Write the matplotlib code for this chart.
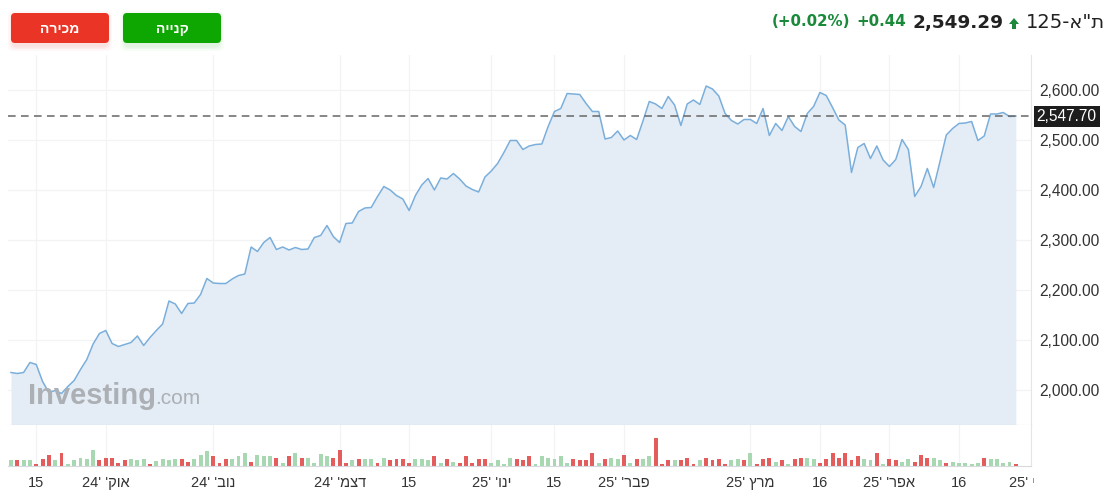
import matplotlib
matplotlib.use("Agg")
import matplotlib.pyplot as plt
from matplotlib.patches import FancyBboxPatch, Polygon
from matplotlib.transforms import IdentityTransform, Bbox, blended_transform_factory

plt.rcParams["font.family"] = ["Liberation Sans", "DejaVu Sans"]

# daily closes, TA-125 (approx)
closes = [
    2035, 2033, 2035, 2055, 2051, 2017, 1995, 1999, 1993, 2007,
    2019, 2041, 2061, 2092, 2113, 2119, 2093, 2087, 2091, 2095,
    2108, 2089, 2105, 2119, 2132, 2178, 2172, 2153, 2173, 2174,
    2191, 2223, 2214, 2213, 2213, 2222, 2229, 2232, 2286, 2277,
    2295, 2305, 2281, 2286, 2280, 2285, 2281, 2282, 2305, 2309,
    2329, 2307, 2295, 2333, 2334, 2357, 2364, 2365, 2387, 2407,
    2400, 2389, 2382, 2359, 2389, 2410, 2423, 2400, 2424, 2422,
    2433, 2422, 2408, 2401, 2396, 2426, 2438, 2453, 2475, 2499,
    2499, 2481, 2488, 2491, 2492, 2527, 2557, 2563, 2593, 2592,
    2591, 2573, 2557, 2557, 2502, 2505, 2518, 2500, 2509, 2501,
    2538, 2577, 2572, 2563, 2587, 2570, 2529, 2572, 2580, 2571,
    2608, 2602, 2588, 2553, 2539, 2532, 2541, 2541, 2533, 2563,
    2509, 2533, 2519, 2547, 2527, 2517, 2553, 2567, 2595, 2589,
    2565, 2540, 2530, 2435, 2485, 2493, 2463, 2488, 2460, 2447,
    2461, 2501, 2481, 2387, 2407, 2443, 2405, 2457, 2510, 2523,
    2533, 2534, 2537, 2499, 2508, 2552, 2552, 2555, 2547, 2547.70,
]

# daily volume (relative units) and bar direction: g = up day, d = down day
volumes = [
    16, 16, 16, 16, 6, 20, 32, 16, 36, 6,
    16, 24, 20, 46, 16, 24, 24, 8, 16, 20,
    16, 20, 6, 14, 20, 16, 20, 20, 12, 20,
    32, 42, 28, 8, 20, 20, 28, 38, 12, 32,
    28, 28, 24, 8, 28, 36, 24, 24, 8, 34,
    30, 24, 46, 8, 16, 20, 20, 20, 8, 24,
    16, 20, 20, 8, 20, 20, 16, 28, 8, 20,
    12, 8, 28, 8, 20, 20, 8, 16, 6, 24,
    20, 16, 28, 6, 28, 24, 20, 28, 8, 20,
    16, 16, 36, 8, 20, 24, 20, 32, 8, 20,
    20, 28, 80, 6, 16, 16, 16, 24, 6, 16,
    24, 16, 20, 6, 16, 20, 16, 36, 6, 20,
    24, 12, 16, 6, 20, 24, 24, 20, 8, 20,
    36, 24, 36, 16, 28, 20, 16, 38, 6, 20,
    16, 12, 20, 12, 32, 24, 24, 16, 8, 12,
    8, 8, 6, 8, 24, 20, 20, 8, 12, 6,
]
directions = (
    "gdggdddgdg" "ggggdddddg"
    "ggdggggddg" "ggdddgggdg"
    "ggdgdgdggg" "gdddgdggdg"
    "ddddgggdgd" "gdddddgggg"
    "dddggggggd" "dddgdggdgd"
    "ggdddgdddg" "ddddggdgdd"
    "dgdgddggdd" "dddddggdgd"
    "dggdddggdg" "ggggdggggd"
)

# trading-day index of each date tick, labels in visual (left-to-right) order
tick_idx = [4, 15, 32, 52, 63, 76, 86, 97, 117, 128, 139, 150]
tick_labels = ["15", "24' 'קוא", "24' 'בונ", "24' 'מצד", "15", "25' 'וני",
               "15", "25' 'רבפ", "25' ץרמ", "16", "25' 'רפא", "16"]
last_tick_idx = 161.6
last_tick_label = "25' יאמ"

price_ticks = [2000, 2100, 2200, 2300, 2400, 2500, 2600]
last_price = 2547.70

W, H = 1116, 494
fig = plt.figure(figsize=(W / 100, H / 100), dpi=100)
fig.patch.set_facecolor("white")


def fbox(x0, y0, x1, y1):
    return [x0 / W, 1 - y1 / H, (x1 - x0) / W, (y1 - y0) / H]


ax = fig.add_axes(fbox(8, 55, 1031, 425))
axv = fig.add_axes(fbox(8, 425, 1031, 466))
xs = list(range(len(closes)))
xlim = (-0.47, 161.4)

grid_c = "#f2f3f4"
for a in (ax, axv):
    a.set_xlim(*xlim)
    for t in tick_idx:
        a.axvline(t, color=grid_c, lw=0.9, zorder=0)
    for s in a.spines.values():
        s.set_visible(False)
    a.tick_params(length=0)

# price panel
ax.set_ylim(1930, 2670)
for p in price_ticks:
    ax.axhline(p, color=grid_c, lw=0.9, zorder=0)
ax.fill_between(xs, closes, 1930, color="#e4edf6", lw=0, zorder=1)
ax.plot(xs, closes, color="#7aaedb", lw=1.1, zorder=2)
ax.axhline(last_price, color="#666666", lw=1.1, ls=(0, (5, 3.5)), zorder=3)
ax.set_xticks([])
ax.yaxis.tick_right()
ax.set_yticks(price_ticks)
ax.set_yticklabels([f"{p:,.2f}" for p in price_ticks], fontsize=11.2, color="#333333")
ax.tick_params(axis="y", pad=6)
ax.spines["bottom"].set_visible(True)
ax.spines["bottom"].set_color("#c9cdd1")
ax.spines["right"].set_visible(True)
ax.spines["right"].set_color("#e3e5e8")

# last price tag
ax.text(1.0055, last_price, f"{last_price:,.2f}", transform=ax.get_yaxis_transform(),
        ha="left", va="center", fontsize=11.2, color="white",
        bbox=dict(boxstyle="square,pad=0.2", fc="#1d1d1d", ec="none"), zorder=5, clip_on=False)

# volume panel
vcolors = ["#a7d8b1" if d == "g" else "#e35d5d" for d in directions]
axv.bar(xs, volumes, width=0.62, color=vcolors, zorder=2)
axv.set_ylim(0, 118)
axv.set_yticks([])
axv.spines["bottom"].set_visible(True)
axv.spines["bottom"].set_color("#d6d9dd")
axv.spines["right"].set_visible(True)
axv.spines["right"].set_color("#e3e5e8")
axv.set_xticks(tick_idx)
axv.set_xticklabels(tick_labels, fontsize=10.5, color="#333333")
axv.tick_params(axis="x", pad=7.5)

# clipped label at the right edge
trans = blended_transform_factory(axv.transData, IdentityTransform())
t = axv.text(last_tick_idx, H - 483, last_tick_label, transform=trans, ha="center", va="center",
             fontsize=10.5, color="#333333", clip_on=True)
t.set_clip_box(Bbox([[0, 0], [1034, H]]))

# watermark
fig.text(28 / W, 1 - 404 / H, "Investing", fontsize=21, fontweight="bold", color="#acb0b4",
         ha="left", va="baseline")
fig.text(155 / W, 1 - 404 / H, ".com", fontsize=15, color="#acb0b4", ha="left", va="baseline")

# header: buy / sell buttons
for (x0, x1, fc, sc, label) in [(11, 109, "#ea3526", "#f6b8b2", "הריכמ"),
                                (123, 221, "#0ea600", "#b9e3b4", "היינק")]:
    for k, al in [(5, 0.10), (3, 0.15), (1.5, 0.2)]:
        fig.add_artist(FancyBboxPatch((x0 - k + 2, H - 43 - k - 3), (x1 - x0) + 2 * k - 4, 30 + 2 * k,
                                      boxstyle="round,pad=0,rounding_size=6", fc=sc, ec="none",
                                      alpha=al, transform=IdentityTransform()))
    fig.add_artist(FancyBboxPatch((x0, H - 43), x1 - x0, 30, boxstyle="round,pad=0,rounding_size=4",
                                  fc=fc, ec="none", transform=IdentityTransform()))
    fig.text((x0 + x1) / 2 / W, 1 - 29 / H, label, fontsize=10, fontweight="bold", color="white",
             ha="center", va="center")

# header: quote
green = "#1a8a3a"
hdr = ["DejaVu Sans"]
fig.text(1105 / W, 1 - 23 / H, '125-א"ת', fontsize=14, color="#222222", ha="right", va="center",
         family=hdr)
fig.add_artist(Polygon([(1009, H - 24), (1014, H - 18), (1019, H - 24), (1016, H - 24),
                        (1016, H - 29), (1012, H - 29), (1012, H - 24)],
                       closed=True, fc=green, ec="none", transform=IdentityTransform()))
fig.text(1003 / W, 1 - 23 / H, "2,549.29", fontsize=13.2, fontweight="bold", color="#222222",
         ha="right", va="center", family=hdr)
fig.text(906 / W, 1 - 22 / H, "+0.44", fontsize=10.8, fontweight="bold", color=green,
         ha="right", va="center", family=hdr)
fig.text(850 / W, 1 - 22 / H, "(+0.02%)", fontsize=10.8, fontweight="bold", color=green,
         ha="right", va="center", family=hdr)

fig.savefig("out.png", dpi=100, facecolor="white")
